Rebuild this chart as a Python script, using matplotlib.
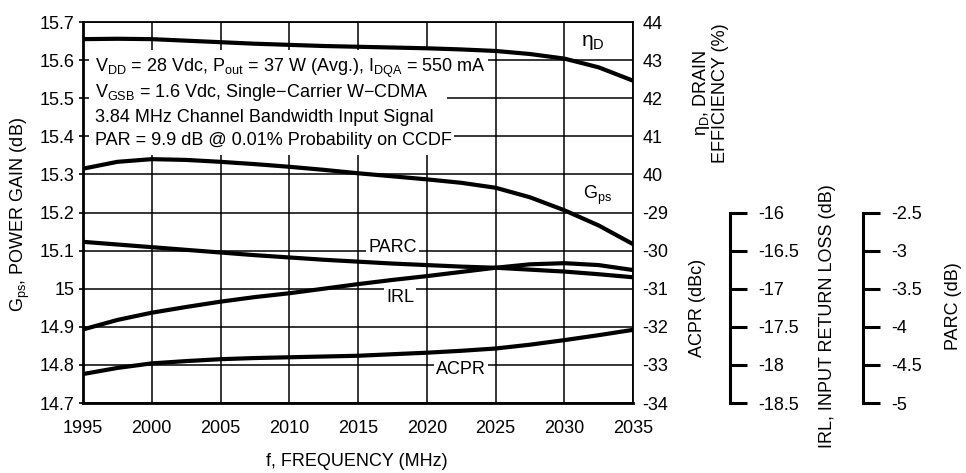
import numpy as np
import matplotlib
matplotlib.use("Agg")
import matplotlib.pyplot as plt
from matplotlib import font_manager
from matplotlib.patches import Rectangle

# Datos
freq = [1995, 1997.5, 2000, 2002.5, 2005, 2007.5, 2010, 2012.5, 2015,
        2017.5, 2020, 2022.5, 2025, 2027.5, 2030, 2032.5, 2035]
gps = [15.315, 15.333, 15.340, 15.338, 15.333, 15.327, 15.320, 15.312, 15.303,
       15.295, 15.287, 15.278, 15.265, 15.240, 15.206, 15.166, 15.117]
eta_d = [43.55, 43.56, 43.55, 43.51, 43.47, 43.43, 43.40, 43.37, 43.35,
         43.33, 43.31, 43.28, 43.24, 43.16, 43.04, 42.81, 42.46]
parc = [-2.885, -2.92, -2.955, -2.99, -3.025, -3.06, -3.09, -3.12, -3.145,
        -3.17, -3.19, -3.21, -3.225, -3.25, -3.275, -3.31, -3.35]
irl = [-17.535, -17.41, -17.315, -17.24, -17.17, -17.11, -17.06, -17.0, -16.94,
       -16.885, -16.835, -16.78, -16.725, -16.68, -16.665, -16.69, -16.755]
acpr = [-33.24, -33.08, -32.96, -32.90, -32.85, -32.82, -32.80, -32.78, -32.76,
        -32.72, -32.68, -32.63, -32.57, -32.47, -32.35, -32.22, -32.08]

gps_ticks = [14.7, 14.8, 14.9, 15.0, 15.1, 15.2, 15.3, 15.4, 15.5, 15.6, 15.7]
gps_labels = ['14.7', '14.8', '14.9', '15', '15.1', '15.2', '15.3', '15.4', '15.5', '15.6', '15.7']
eta_ticks = [40, 41, 42, 43, 44]
acpr_ticks = [-34, -33, -32, -31, -30, -29]
irl_ticks = [-18.5, -18, -17.5, -17, -16.5, -16]
irl_labels = ['-18.5', '-18', '-17.5', '-17', '-16.5', '-16']
parc_ticks = [-5, -4.5, -4, -3.5, -3, -2.5]
parc_labels = ['-5', '-4.5', '-4', '-3.5', '-3', '-2.5']
freq_ticks = [1995, 2000, 2005, 2010, 2015, 2020, 2025, 2030, 2035]

# Fuente: intentamos una sans estrecha
nombres = {f.name for f in font_manager.fontManager.ttflist}
if 'Liberation Sans Narrow' in nombres:
    fam, fs = 'Liberation Sans Narrow', 14.5
else:
    fam, fs = 'Liberation Sans', 13
plt.rcParams['font.family'] = [fam, 'DejaVu Sans']
plt.rcParams['font.size'] = fs
plt.rcParams['mathtext.fontset'] = 'custom'
plt.rcParams['mathtext.rm'] = fam
plt.rcParams['mathtext.it'] = fam
plt.rcParams['axes.unicode_minus'] = False

W, H = 966, 473
fig = plt.figure(figsize=(W / 100, H / 100), dpi=100)
ax = fig.add_axes([83 / W, 70 / H, 550 / W, 381 / H])

# Eje principal (Gps)
ax.set_xlim(1995, 2035)
ax.set_ylim(14.7, 15.7)
ax.set_xticks(freq_ticks)
ax.set_yticks(gps_ticks)
ax.set_yticklabels(gps_labels)
ax.grid(True, color='black', lw=1.1)
ax.tick_params(axis='x', length=0, pad=12)
ax.tick_params(axis='y', length=3, width=1.2, pad=3)
for s in ['left', 'bottom']:
    ax.spines[s].set_linewidth(2.0)
for s in ['top', 'right']:
    ax.spines[s].set_linewidth(1.3)
ax.plot(freq, gps, color='black', lw=3, zorder=3)

# Caja blanca detrás del texto de condiciones
ax.add_patch(Rectangle((1995.4, 15.351), 26.1, 0.276, facecolor='white',
                       edgecolor='none', zorder=2.5))
lineas = [r'V$_{\rm DD}$ = 28 Vdc, P$_{\rm out}$ = 37 W (Avg.), I$_{\rm DQA}$ = 550 mA',
          r'V$_{\rm GSB}$ = 1.6 Vdc, Single$-$Carrier W$-$CDMA',
          '3.84 MHz Channel Bandwidth Input Signal',
          'PAR = 9.9 dB @ 0.01% Probability on CCDF']
bases = [15.570, 15.504, 15.438, 15.377]
for txt, yb in zip(lineas, bases):
    ax.text(1995.9, yb, txt, va='baseline', ha='left', zorder=4,
            bbox=dict(facecolor='white', edgecolor='none', pad=1.5))

caja = dict(facecolor='white', edgecolor='none', pad=1.5)
ax.text(2032.1, 15.645, r'$\mathrm{\eta}_{\rm D}$', ha='center', va='center', zorder=4,
        bbox=caja, fontsize=fs + 2)
ax.text(2032.4, 15.246, r'G$_{\rm ps}$', ha='center', va='center', zorder=4, bbox=caja)
ax.text(2017.5, 15.109, 'PARC', ha='center', va='center', zorder=4, bbox=caja)
ax.text(2018.05, 14.976, 'IRL', ha='center', va='center', zorder=4, bbox=caja)
ax.text(2022.5, 14.787, 'ACPR', ha='center', va='center', zorder=4, bbox=caja)

# Eje derecho: eficiencia y ACPR
ax_eta = ax.twinx()
ax_eta.set_ylim(34, 44)
ax_eta.set_yticks(eta_ticks)
ax_eta.tick_params(axis='y', length=0, pad=7)
for s in ax_eta.spines.values():
    s.set_visible(False)
ax_eta.plot(freq, eta_d, color='black', lw=3)

ax_acpr = ax.twinx()
ax_acpr.set_ylim(-34, -24)
ax_acpr.set_yticks(acpr_ticks)
ax_acpr.tick_params(axis='y', length=0, pad=7)
for s in ax_acpr.spines.values():
    s.set_visible(False)
ax_acpr.plot(freq, acpr, color='black', lw=3)

# Ejes adicionales: IRL y PARC
def eje_extra(pos, lim, ticks, labels, datos):
    a = ax.twinx()
    a.set_ylim(*lim)
    for s in ['top', 'bottom', 'left']:
        a.spines[s].set_visible(False)
    a.spines['right'].set_position(('axes', pos))
    a.spines['right'].set_bounds(ticks[0], ticks[-1])
    a.spines['right'].set_linewidth(2.2)
    a.set_yticks(ticks)
    a.set_yticklabels(labels)
    a.tick_params(axis='y', length=12, width=2.2, pad=8)
    a.plot(freq, datos, color='black', lw=3)
    return a

ax_irl = eje_extra((730 - 83) / 550, (-18.5, -13.5), irl_ticks, irl_labels, irl)
ax_parc = eje_extra((863 - 83) / 550, (-5, 0), parc_ticks, parc_labels, parc)

# Títulos de los ejes
fig.text(20 / W, 1 - 215 / H, r'G$_{\rm ps}$, POWER GAIN (dB)', rotation=90, ha='center', va='center')
fig.text(357 / W, 1 - 461 / H, 'f, FREQUENCY (MHz)', ha='center', va='center')
fig.text(710 / W, 1 - 93 / H, '$\\mathrm{\\eta}_{\\rm D}$, DRAIN\nEFFICIENCY (%)', rotation=90,
         ha='center', va='center', linespacing=0.95, multialignment='center')
fig.text(697 / W, 1 - 308 / H, 'ACPR (dBc)', rotation=90, ha='center', va='center')
fig.text(828 / W, 1 - 316 / H, 'IRL, INPUT RETURN LOSS (dB)', rotation=90, ha='center', va='center')
fig.text(954 / W, 1 - 306 / H, 'PARC (dB)', rotation=90, ha='center', va='center')

fig.savefig('out.png', dpi=100)
